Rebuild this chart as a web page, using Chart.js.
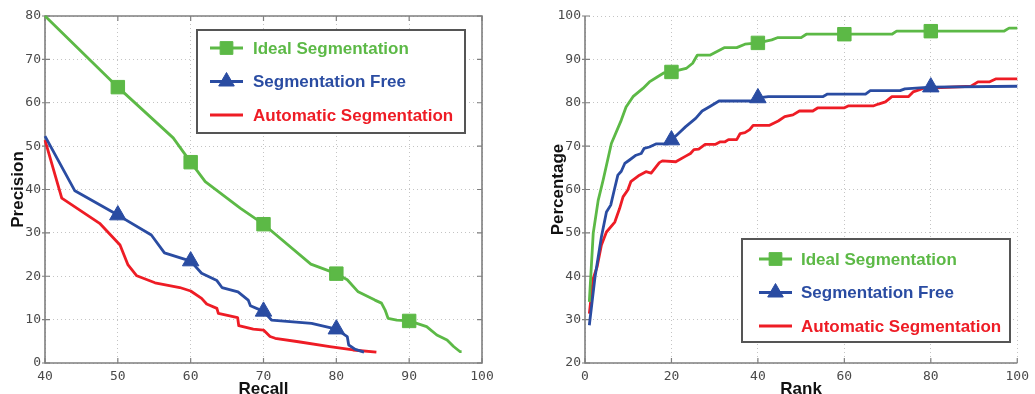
<!DOCTYPE html>
<html>
<head>
<meta charset="utf-8">
<script src="https://cdn.jsdelivr.net/npm/chart.js@4/dist/chart.umd.min.js"></script>
<style>
  html, body { margin: 0; padding: 0; background: #fff; overflow: hidden; width: 1035px; height: 394px; }
  canvas { position: absolute; top: 0; }
  #prChart { left: 0; }
  #rankChart { left: 510px; }
</style>
</head>
<body>
<canvas id="prChart" width="500" height="400"></canvas>
<canvas id="rankChart" width="525" height="400"></canvas>
<script>
// ---- data: [recall, precision] ----
const idealPR = [[40, 80], [50, 63.6], [57.6, 51.9], [60, 46.3], [62, 41.8], [66.8, 35.7], [70, 32.0],
  [76.5, 22.8], [80, 20.6], [81.5, 19.2], [83.0, 16.4], [85.3, 14.5], [86.2, 13.8], [86.7, 12.2],
  [87.1, 10.3], [88.3, 9.9], [90, 9.7], [92.4, 8.4], [93.8, 6.45], [95.2, 5.3], [96.1, 3.8], [97.0, 2.6], [97.2, 2.6]];
const freePR = [[40, 52.3], [44.1, 39.7], [50, 34.1], [54.6, 29.5], [56.4, 25.4], [60, 23.5], [61.5, 20.7],
  [63.6, 19.0], [64.3, 17.4], [66.5, 16.4], [67.9, 14.5], [68.2, 13.2], [70, 11.9], [71.1, 9.9], [76.6, 9.15],
  [80, 7.8], [81.5, 6.1], [81.7, 4.15], [82.6, 3.15], [83.8, 2.5]];
const autoPR = [[40, 51.4], [42.3, 38.0], [47.5, 32.2], [50.3, 27.2], [51.4, 22.6], [52.6, 20.1], [55.1, 18.5],
  [58.5, 17.4], [60, 16.6], [61.5, 14.9], [62.2, 13.6], [63.6, 12.6], [63.8, 11.45], [66.45, 10.45], [66.6, 8.6],
  [68.6, 7.8], [70, 7.6], [70.9, 6.1], [71.6, 5.7], [74.8, 4.9], [79.1, 3.8], [82.3, 3.0], [85.5, 2.5]];

// ---- data: [rank, percentage] ----
const idealRank = [[1, 34.1], [1.9, 49.9], [3.05, 57.5], [4.2, 62.2], [6.1, 70.6], [8.4, 76.0], [9.5, 79.0],
  [11.1, 81.4], [13.4, 83.3], [14.9, 84.8], [16.8, 86.0], [18.3, 86.9], [20, 87.1], [23.4, 87.9], [24.9, 89.1],
  [26, 91.0], [29, 91.0], [32.2, 92.7], [35.1, 92.7], [37, 93.5], [40, 93.8], [43.2, 94.5], [44.5, 95.0],
  [50, 95.0], [51.2, 95.8], [60, 95.8], [71, 95.8], [72.1, 96.5], [80, 96.5], [96.9, 96.5], [98.1, 97.2], [100, 97.2]];
const freeRank = [[1, 28.7], [2.3, 39.7], [3.8, 49.1], [4.96, 54.8], [5.95, 56.4], [6.8, 60.0], [7.6, 63.3],
  [8.4, 64.2], [9.2, 66.0], [10.3, 66.8], [11.8, 67.9], [13.0, 68.3], [13.7, 69.5], [14.9, 69.8], [16.4, 70.5],
  [19.1, 70.5], [20, 71.4], [21.8, 73.1], [23.3, 74.5], [25.6, 76.4], [27.1, 78.1], [29, 79.2], [31, 80.4],
  [38.5, 80.4], [40, 81.1], [42.4, 81.4], [55, 81.4], [56.1, 82.0], [64.9, 82.0], [66, 82.8], [72.9, 82.8],
  [74, 83.2], [80, 83.6], [100, 83.8]];
const autoRank = [[1, 31.4], [1.9, 39.5], [2.8, 42.2], [3.8, 47.2], [4.96, 50.2], [6.9, 52.5], [8.0, 55.6],
  [8.8, 58.3], [9.9, 59.9], [10.6, 61.8], [12.6, 63.3], [14.1, 64.1], [15.3, 63.8], [17.2, 66.2], [17.9, 66.6],
  [21, 66.4], [23.3, 67.7], [24.4, 68.3], [25.2, 69.2], [26.3, 69.3], [27.8, 70.4], [30.1, 70.4], [31.3, 71.0],
  [32.4, 71.0], [33.2, 71.5], [35.1, 71.5], [35.9, 72.9], [37, 73.1], [38.1, 73.8], [38.9, 74.8], [42.7, 74.8],
  [44.7, 75.8], [46.2, 76.8], [48.1, 77.2], [49.6, 78.1], [52.7, 78.1], [53.8, 78.8], [59.9, 78.8], [61, 79.3],
  [66.8, 79.3], [67.9, 79.7], [69.5, 80.2], [71, 81.4], [74.8, 81.4], [75.9, 82.5], [77.1, 82.9], [78.2, 83.3],
  [89.3, 83.8], [90.9, 84.8], [93.5, 84.8], [95, 85.5], [100, 85.5]];

// where the markers sit
const idealPRMarks = [50, 60, 70, 80, 90];
const freePRMarks = [50, 60, 70, 80];
const rankMarks = [20, 40, 60, 80];

const seriesNames = ['Ideal Segmentation', 'Segmentation Free', 'Automatic Segmentation'];
const GREEN = '#5cb946', BLUE = '#2a4ca2', RED = '#ee1c25';

const tickFont = { family: 'DejaVu Sans Mono', size: 13 };
const titleFont = { family: 'Liberation Sans', size: 17, weight: 'bold' };

function series(label, pts, color, style, marks) {
  return {
    label: label,
    data: pts.map(([x, y]) => ({ x, y })),
    borderColor: color,
    backgroundColor: color,
    borderWidth: 2.8,
    borderJoinStyle: 'round',
    pointStyle: style,
    pointRadius: (c) => (c.raw && marks.includes(c.raw.x) ? 9.5 : 0),
    pointHoverRadius: 0,
    pointBorderWidth: 1,
    tension: 0,
    clip: 6,
    legendMarker: marks.length ? style : null
  };
}

// box + tick marks like the original plotting tool
const framePlugin = {
  id: 'frame',
  beforeDatasetsDraw(chart, args, o) {
    const { ctx, chartArea: a, scales } = chart;
    const xs = scales.x, ys = scales.y;
    ctx.save();
    ctx.strokeStyle = '#7f7f7f';
    ctx.lineWidth = 1.6;
    ctx.beginPath();
    ctx.moveTo(a.left, a.top);
    ctx.lineTo(a.left, a.bottom);
    ctx.lineTo(a.right, a.bottom);
    if (o.box) {
      ctx.lineTo(a.right, a.top);
      ctx.closePath();
    }
    ctx.stroke();
    ctx.lineWidth = 1.2;
    ctx.beginPath();
    xs.ticks.forEach((t) => {
      const px = xs.getPixelForValue(t.value);
      ctx.moveTo(px, a.bottom); ctx.lineTo(px, a.bottom - 5);
      if (o.box) { ctx.moveTo(px, a.top); ctx.lineTo(px, a.top + 5); }
    });
    ys.ticks.forEach((t) => {
      const py = ys.getPixelForValue(t.value);
      ctx.moveTo(a.left - 3, py); ctx.lineTo(a.left + 5, py);
      if (o.box) { ctx.moveTo(a.right, py); ctx.lineTo(a.right - 5, py); }
    });
    ctx.stroke();
    ctx.restore();
  }
};

function drawMarker(ctx, style, x, y, r) {
  ctx.beginPath();
  if (style === 'rect') {
    const s = Math.SQRT1_2 * r;
    ctx.rect(x - s, y - s, 2 * s, 2 * s);
  } else if (style === 'triangle') {
    ctx.moveTo(x, y - r);
    ctx.lineTo(x + r * Math.sin(2 * Math.PI / 3), y + r / 2);
    ctx.lineTo(x - r * Math.sin(2 * Math.PI / 3), y + r / 2);
    ctx.closePath();
  }
  ctx.fill();
  ctx.stroke();
}

const boxLegend = {
  id: 'boxLegend',
  afterDatasetsDraw(chart, args, o) {
    const { ctx, chartArea: a } = chart;
    const x0 = a.left + o.dx, y0 = a.top + o.dy;
    ctx.save();
    ctx.fillStyle = '#fff';
    ctx.fillRect(x0, y0, o.w, o.h);
    ctx.strokeStyle = '#555';
    ctx.lineWidth = 2;
    ctx.strokeRect(x0, y0, o.w, o.h);
    ctx.font = 'bold 17px "Liberation Sans", Arial, sans-serif';
    ctx.textBaseline = 'middle';
    chart.data.datasets.forEach((ds, i) => {
      const cy = y0 + o.first + i * o.step;
      ctx.strokeStyle = ds.borderColor;
      ctx.fillStyle = ds.borderColor;
      ctx.lineWidth = 3;
      ctx.beginPath();
      ctx.moveTo(x0 + o.lineFrom, cy);
      ctx.lineTo(x0 + o.lineTo, cy);
      ctx.stroke();
      if (ds.legendMarker) {
        ctx.lineWidth = 1;
        drawMarker(ctx, ds.legendMarker, x0 + (o.lineFrom + o.lineTo) / 2, cy, 9);
      }
      ctx.fillText(ds.label, x0 + o.textX, cy + 1);
    });
    ctx.restore();
  }
};

function axes(xMin, xMax, xStep, yMin, yMax, xTitle, yTitle) {
  const grid = { color: '#c4c4c4', lineWidth: 1, drawTicks: false };
  const border = { display: false, dash: [1, 3] };
  return {
    x: {
      type: 'linear', min: xMin, max: xMax,
      ticks: { stepSize: xStep, font: tickFont, color: '#4a4a4a', padding: 6, maxRotation: 0, autoSkip: false },
      grid, border,
      title: { display: true, text: xTitle, font: titleFont, color: '#111', padding: 0 },
      afterFit: (s) => { s.height = 37; }
    },
    y: {
      type: 'linear', min: yMin, max: yMax,
      ticks: { stepSize: 10, font: tickFont, color: '#4a4a4a', padding: 4 },
      grid, border,
      title: { display: true, text: yTitle, font: titleFont, color: '#111', padding: 0 },
      afterFit: (s) => { s.width = 37; }
    }
  };
}

new Chart(document.getElementById('prChart'), {
  type: 'line',
  data: {
    datasets: [
      series(seriesNames[0], idealPR, GREEN, 'rect', idealPRMarks),
      series(seriesNames[1], freePR, BLUE, 'triangle', freePRMarks),
      series(seriesNames[2], autoPR, RED, false, [])
    ]
  },
  options: {
    responsive: false,
    animation: false,
    layout: { padding: { left: 8, top: 16, right: 18, bottom: 0 } },
    scales: axes(40, 100, 10, 0, 80, 'Recall', 'Precision'),
    plugins: {
      legend: { display: false },
      tooltip: { enabled: false },
      frame: { box: true },
      boxLegend: { dx: 152, dy: 14, w: 268, h: 103, first: 18, step: 33.5, lineFrom: 13, lineTo: 46, textX: 56 }
    }
  },
  plugins: [framePlugin, boxLegend]
});

new Chart(document.getElementById('rankChart'), {
  type: 'line',
  data: {
    datasets: [
      series(seriesNames[0], idealRank, GREEN, 'rect', rankMarks),
      series(seriesNames[1], freeRank, BLUE, 'triangle', rankMarks),
      series(seriesNames[2], autoRank, RED, false, [])
    ]
  },
  options: {
    responsive: false,
    animation: false,
    layout: { padding: { left: 38, top: 16, right: 13, bottom: 0 } },
    scales: axes(0, 100, 20, 20, 100, 'Rank', 'Percentage'),
    plugins: {
      legend: { display: false },
      tooltip: { enabled: false },
      frame: { box: false },
      boxLegend: { dx: 157, dy: 223, w: 268, h: 103, first: 20, step: 33.5, lineFrom: 17, lineTo: 50, textX: 59 }
    }
  },
  plugins: [framePlugin, boxLegend]
});
</script>
</body>
</html>
